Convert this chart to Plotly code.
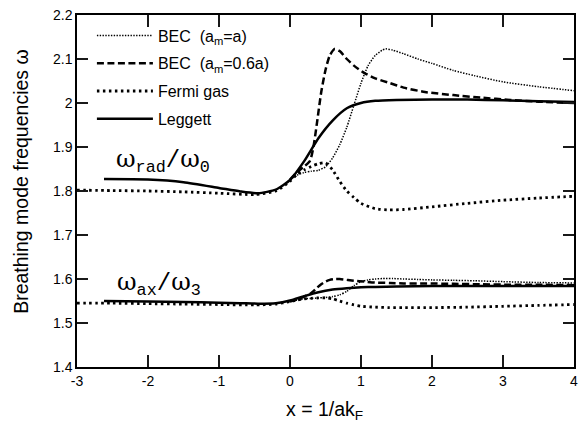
import plotly.graph_objects as go

# ---- data ----
# Fermi gas
fermi_x = [-3.0, -2.5, -2.0, -1.5, -1.0, -0.5, -0.2, 0.0, 0.1, 0.2, 0.3, 0.4, 0.5, 0.6, 0.7, 0.8, 0.9, 1.0, 1.2, 1.4, 1.6, 2.0, 2.5, 3.0, 3.5, 4.0]
fermi_rad = [1.802, 1.801, 1.800, 1.798, 1.795, 1.792, 1.800, 1.822, 1.838, 1.848, 1.856, 1.862, 1.864, 1.848, 1.822, 1.800, 1.785, 1.772, 1.760, 1.757, 1.758, 1.764, 1.772, 1.779, 1.784, 1.788]
fermi_ax = [1.545, 1.545, 1.544, 1.543, 1.542, 1.541, 1.543, 1.549, 1.552, 1.555, 1.556, 1.557, 1.557, 1.555, 1.550, 1.545, 1.541, 1.538, 1.536, 1.535, 1.535, 1.535, 1.536, 1.538, 1.540, 1.542]

# Leggett
leg_x = [-2.62, -2.0, -1.5, -1.0, -0.7, -0.45, -0.2, 0.0, 0.2, 0.4, 0.6, 0.8, 1.0, 1.2, 1.5, 2.0, 2.5, 3.0, 3.5, 4.0]
leg_rad = [1.827, 1.826, 1.820, 1.807, 1.799, 1.795, 1.803, 1.825, 1.868, 1.920, 1.960, 1.988, 2.000, 2.005, 2.007, 2.008, 2.008, 2.006, 2.004, 2.002]
leg_ax = [1.550, 1.549, 1.548, 1.546, 1.545, 1.544, 1.545, 1.551, 1.561, 1.570, 1.576, 1.579, 1.581, 1.582, 1.583, 1.584, 1.584, 1.584, 1.584, 1.584]

# BEC (a_m = a)
beca_x = [0.0, 0.1, 0.2, 0.3, 0.4, 0.5, 0.6, 0.7, 0.8, 0.9, 1.0, 1.1, 1.2, 1.3, 1.35, 1.45, 1.6, 1.8, 2.0, 2.3, 2.6, 3.0, 3.5, 4.0]
beca_rad = [1.826, 1.836, 1.842, 1.845, 1.847, 1.855, 1.875, 1.905, 1.945, 1.995, 2.045, 2.085, 2.108, 2.120, 2.123, 2.120, 2.112, 2.100, 2.090, 2.074, 2.062, 2.048, 2.037, 2.028]
beca_ax = [1.549, 1.552, 1.555, 1.556, 1.557, 1.558, 1.560, 1.564, 1.572, 1.585, 1.594, 1.598, 1.600, 1.601, 1.601, 1.601, 1.600, 1.599, 1.598, 1.597, 1.596, 1.594, 1.592, 1.591]

# BEC (a_m = 0.6 a)
bec6_x = [0.0, 0.1, 0.2, 0.28, 0.33, 0.38, 0.44, 0.5, 0.56, 0.63, 0.7, 0.8, 0.9, 1.05, 1.2, 1.41, 1.6, 1.9, 2.3, 2.7, 3.1, 3.5, 4.0]
bec6_rad = [1.826, 1.843, 1.856, 1.868, 1.900, 1.955, 2.025, 2.075, 2.108, 2.123, 2.118, 2.100, 2.085, 2.068, 2.056, 2.045, 2.035, 2.025, 2.018, 2.012, 2.007, 2.003, 2.000]
bec6_ax = [1.549, 1.554, 1.560, 1.566, 1.572, 1.580, 1.588, 1.594, 1.598, 1.600, 1.600, 1.598, 1.596, 1.594, 1.592, 1.591, 1.590, 1.590, 1.589, 1.588, 1.587, 1.587, 1.586]

x_ticks = [-3, -2, -1, 0, 1, 2, 3, 4]
x_tick_text = ["-3", "-2", "-1", "0", "1", "2", "3", "4"]
y_ticks = [1.4, 1.5, 1.6, 1.7, 1.8, 1.9, 2.0, 2.1, 2.2]
y_tick_text = ["1.4", "1.5", "1.6", "1.7", "1.8", "1.9", "2", "2.1", "2.2"]

NB = "\u00a0"
series = [
    ("BEC" + NB + NB + "(a<sub>m</sub>=a)", beca_x, beca_rad, beca_ax, dict(color="black", width=1.5, dash="1.4px,1.4px"), "g1"),
    ("BEC" + NB + NB + "(a<sub>m</sub>=0.6a)", bec6_x, bec6_rad, bec6_ax, dict(color="black", width=2.5, dash="7px,3.5px"), "g2"),
    ("Fermi gas", fermi_x, fermi_rad, fermi_ax, dict(color="black", width=2.8, dash="2.5px,3.5px"), "g3"),
    ("Leggett", leg_x, leg_rad, leg_ax, dict(color="black", width=2.5), "g4"),
]

fig = go.Figure()
for name, xs, yr, ya, line, grp in series:
    fig.add_trace(go.Scatter(x=xs, y=yr, mode="lines", name=name, line=dict(shape="spline", smoothing=0.6, **line),
                             legendgroup=grp, showlegend=True))
    fig.add_trace(go.Scatter(x=xs, y=ya, mode="lines", name=name, line=dict(shape="spline", smoothing=0.6, **line),
                             legendgroup=grp, showlegend=False))

MONO = "Liberation Mono"
fig.add_annotation(
    x=-2.48, y=1.869, xref="x", yref="y", xanchor="left", yanchor="middle", showarrow=False,
    text='ω<sub><span style="font-family:%s">rad</span></sub>'
         '<span style="font-family:%s">/</span>ω<sub><span style="font-family:%s">0</span></sub>' % (MONO, MONO, MONO),
    font=dict(family="DejaVu Serif", size=24, color="black"))
fig.add_annotation(
    x=-2.47, y=1.589, xref="x", yref="y", xanchor="left", yanchor="middle", showarrow=False,
    text='ω<sub><span style="font-family:%s">ax</span></sub>'
         '<span style="font-family:%s">/</span>ω<sub><span style="font-family:%s">3</span></sub>' % (MONO, MONO, MONO),
    font=dict(family="DejaVu Serif", size=24, color="black"))

# axis titles as annotations for exact placement
fig.add_annotation(x=-0.112, y=0.527, xref="paper", yref="paper", xanchor="center", yanchor="middle",
                   textangle=-90, showarrow=False, text="Breathing mode frequencies ω",
                   font=dict(size=19.5, color="black"))
fig.add_annotation(x=0.497, y=-0.124, xref="paper", yref="paper", xanchor="center", yanchor="middle",
                   showarrow=False, text="x = 1/ak<sub>F</sub>",
                   font=dict(size=19.5, color="black"))

TICKC = "rgb(25,25,25)"
fig.update_layout(
    width=581, height=422,
    margin=dict(l=77, r=3, t=15, b=55),
    paper_bgcolor="white", plot_bgcolor="white",
    font=dict(family="Liberation Sans, Arial", size=14, color="black"),
    showlegend=True,
    legend=dict(x=0.03, y=0.99, xanchor="left", yanchor="top", bgcolor="rgba(0,0,0,0)",
                font=dict(size=16), itemwidth=56, traceorder="grouped", tracegroupgap=4),
    xaxis=dict(range=[-3, 4], tickvals=x_ticks, ticktext=x_tick_text,
               ticks="inside", ticklen=12, tickwidth=2, tickcolor=TICKC,
               showline=True, linecolor="black", linewidth=1.5, mirror="ticks", showgrid=False, zeroline=False,
               tickfont=dict(size=14)),
    yaxis=dict(range=[1.4, 2.2], tickvals=y_ticks, ticktext=y_tick_text,
               ticks="inside", ticklen=11, tickwidth=2, tickcolor=TICKC,
               showline=True, linecolor="black", linewidth=1.5, mirror="ticks", showgrid=False, zeroline=False,
               tickfont=dict(size=14)),
)

fig.write_html("out.html")
